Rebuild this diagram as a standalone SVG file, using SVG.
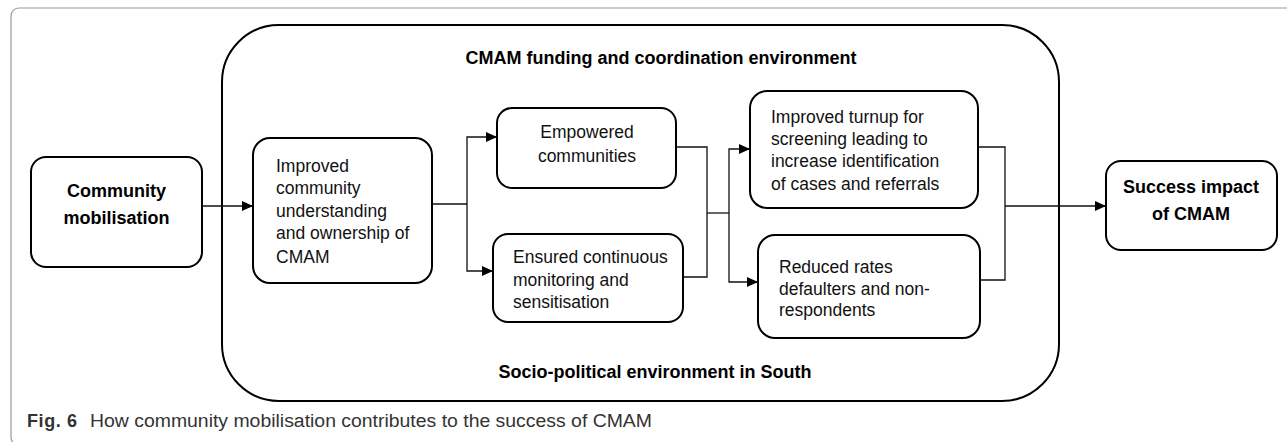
<svg xmlns="http://www.w3.org/2000/svg" width="1287" height="442" viewBox="0 0 1287 442">
<defs>
<style>
.box{fill:#fff;stroke:#000;stroke-width:2}
.t{font-family:"Liberation Sans",Arial,sans-serif;font-size:17.5px;fill:#111}
.b{font-family:"Liberation Sans",Arial,sans-serif;font-size:18px;font-weight:bold;fill:#000}
.c{fill:none;stroke:#111;stroke-width:1.3}
.cap{font-family:"Liberation Sans",Arial,sans-serif;font-size:18px;fill:#333}
</style>
<marker id="ah" markerUnits="userSpaceOnUse" markerWidth="12" markerHeight="12" viewBox="0 0 12 12" refX="11" refY="6" orient="auto">
<path d="M0,1 L11,6 L0,11 Z" fill="#000"/>
</marker>
</defs>
<rect width="1287" height="442" fill="#fff"/>
<rect x="11" y="8" width="1320" height="437" rx="8" fill="none" stroke="#999" stroke-width="1.2"/>

<g id="container">
<rect class="box" x="222" y="25" width="837" height="376" rx="57"/>
<text class="b" x="661" y="64" text-anchor="middle">CMAM funding and coordination environment</text>
<text class="b" x="655" y="378" text-anchor="middle">Socio-political environment in South</text>
</g>

<g id="connectors">
<path class="c" d="M198 206 H253" marker-end="url(#ah)"/>
<path class="c" d="M432 204 H467"/>
<path class="c" d="M467 204 V137 H497" marker-end="url(#ah)"/>
<path class="c" d="M467 204 V271 H493" marker-end="url(#ah)"/>
<path class="c" d="M676 147 H707 V277 H683"/>
<path class="c" d="M707 213 H729"/>
<path class="c" d="M729 213 V149 H750" marker-end="url(#ah)"/>
<path class="c" d="M729 213 V282 H758" marker-end="url(#ah)"/>
<path class="c" d="M978 147 H1005 V280 H980"/>
<path class="c" d="M1005 206 H1106" marker-end="url(#ah)"/>
</g>

<g id="community-mobilisation">
<rect class="box" x="31" y="157" width="171" height="110" rx="15"/>
<text class="b" x="116.5" y="197" text-anchor="middle">Community</text>
<text class="b" x="116.5" y="224" text-anchor="middle">mobilisation</text>
</g>

<g id="improved-understanding">
<rect class="box" x="253" y="138" width="179" height="145" rx="17"/>
<text class="t" x="276" y="172">Improved</text>
<text class="t" x="276" y="194">community</text>
<text class="t" x="276" y="217">understanding</text>
<text class="t" x="276" y="239">and ownership of</text>
<text class="t" x="276" y="263">CMAM</text>
</g>

<g id="empowered">
<rect class="box" x="497" y="108" width="179" height="80" rx="15"/>
<text class="t" x="587" y="138" text-anchor="middle">Empowered</text>
<text class="t" x="587" y="162" text-anchor="middle">communities</text>
</g>

<g id="ensured">
<rect class="box" x="493" y="234" width="190" height="88" rx="15"/>
<text class="t" x="513" y="263">Ensured continuous</text>
<text class="t" x="513" y="286">monitoring and</text>
<text class="t" x="513" y="308">sensitisation</text>
</g>

<g id="improved-turnup">
<rect class="box" x="750" y="91" width="228" height="117" rx="17"/>
<text class="t" x="771" y="123">Improved turnup for</text>
<text class="t" x="771" y="145">screening leading to</text>
<text class="t" x="771" y="167">increase identification</text>
<text class="t" x="771" y="190">of cases and referrals</text>
</g>

<g id="reduced-rates">
<rect class="box" x="758" y="235" width="222" height="103" rx="17"/>
<text class="t" x="779" y="273">Reduced rates</text>
<text class="t" x="779" y="295">defaulters and non-</text>
<text class="t" x="779" y="316">respondents</text>
</g>

<g id="success-impact">
<rect class="box" x="1106" y="161" width="171" height="89" rx="15"/>
<text class="b" x="1191" y="193" text-anchor="middle">Success impact</text>
<text class="b" x="1191" y="220" text-anchor="middle">of CMAM</text>
</g>

<g id="caption">
<text class="cap" x="27" y="427" font-weight="bold" fill="#222" textLength="50">Fig. 6</text>
<text class="cap" x="90" y="427" textLength="562" lengthAdjust="spacingAndGlyphs">How community mobilisation contributes to the success of CMAM</text>
</g>
</svg>
